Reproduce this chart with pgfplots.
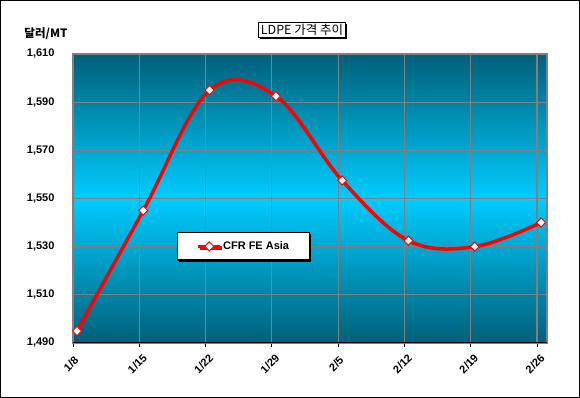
\documentclass[border=0pt]{standalone}
\usepackage{pgfplots}
\pgfplotsset{compat=1.18}
\usepackage{fontspec}
\setmainfont{Liberation Sans}
\newfontfamily\kr{Noto Sans CJK KR}
\usetikzlibrary{shadows}
\definecolor{tealdark}{RGB}{0,96,122}
\definecolor{cyanbright}{RGB}{0,204,255}
\definecolor{gridgray}{RGB}{128,128,128}
\begin{document}
\begin{tikzpicture}
\path[use as bounding box] (0pt,0pt) rectangle (580pt,398pt);
\fill[white] (0pt,0pt) rectangle (580pt,398pt);
\begin{axis}[
  at={(73pt,55pt)}, anchor=south west,
  scale only axis, width=474pt, height=289pt,
  xmin=-0.06, xmax=7.09, ymin=1490, ymax=1610,
  xtick={-0.06,0.94,1.94,2.94,3.94,4.94,5.94,6.94},
  xticklabels={1/8,1/15,1/22,1/29,2/5,2/12,2/19,2/26},
  ytick={1490,1510,1530,1550,1570,1590,1610},
  /pgf/number format/1000 sep={,},
  /pgf/number format/assume math mode=true,
  axis background/.style={top color=tealdark, bottom color=tealdark, middle color=cyanbright},
  axis line style={draw=gridgray, line width=1.5pt},
  grid=major,
  major grid style={draw=gridgray, line width=1.2pt},
  xtick pos=bottom, tick align=outside,
  x tick style={draw=black, line width=1pt},
  major tick length=4pt,
  ytick style={draw=none},
  yticklabel style={font=\bfseries\fontsize{11}{13}\selectfont, anchor=east, xshift=-11pt},
  xticklabel style={font=\bfseries\fontsize{11}{13}\selectfont, anchor=center, xshift=-2pt, yshift=-17pt, rotate=45},
  legend style={at={(axis description cs:0.2194,0.384)}, anchor=north west,
    draw=black, line width=1.2pt, fill=white, inner xsep=19pt, inner ysep=8pt,
    font=\bfseries\fontsize{11}{13}\selectfont,
    drop shadow={shadow xshift=1.5pt, shadow yshift=-1.5pt, fill=black, opacity=1},
    nodes={inner xsep=1pt, inner ysep=1pt}},
  legend image code/.code={\draw[mark repeat=2,mark phase=2,#1] plot coordinates {(0pt,0pt) (11pt,0pt) (22pt,0pt)};},
]
\addplot[red, line width=3.5pt, smooth, tension=0.6,
  mark=square*, mark size=3.2pt,
  mark options={rotate=45, fill=white, draw=red, line width=1pt, solid}]
  coordinates {(0,1495) (1,1545) (2,1595) (3,1592.5) (4,1557.5) (5,1532.5) (6,1530) (7,1540)};
\addlegendentry{CFR FE Asia}
\draw[black, line width=2pt] (rel axis cs:0,0) -- (rel axis cs:1,0);
\end{axis}
\node[draw=black, line width=1pt, fill=white, inner xsep=2pt, inner ysep=1.5pt,
  font=\kr\fontsize{12.5}{14}\selectfont,
  drop shadow={shadow xshift=1.5pt, shadow yshift=-1.5pt, fill=black, opacity=1}]
  at (302pt,368pt) {LDPE 가격 추이};
\node[font=\kr\bfseries\fontsize{11.5}{13}\selectfont] at (46pt,364pt) {달러/MT};
\draw[black, line width=1pt] (0.5pt,0.5pt) rectangle (579.5pt,397.5pt);
\end{tikzpicture}
\end{document}
